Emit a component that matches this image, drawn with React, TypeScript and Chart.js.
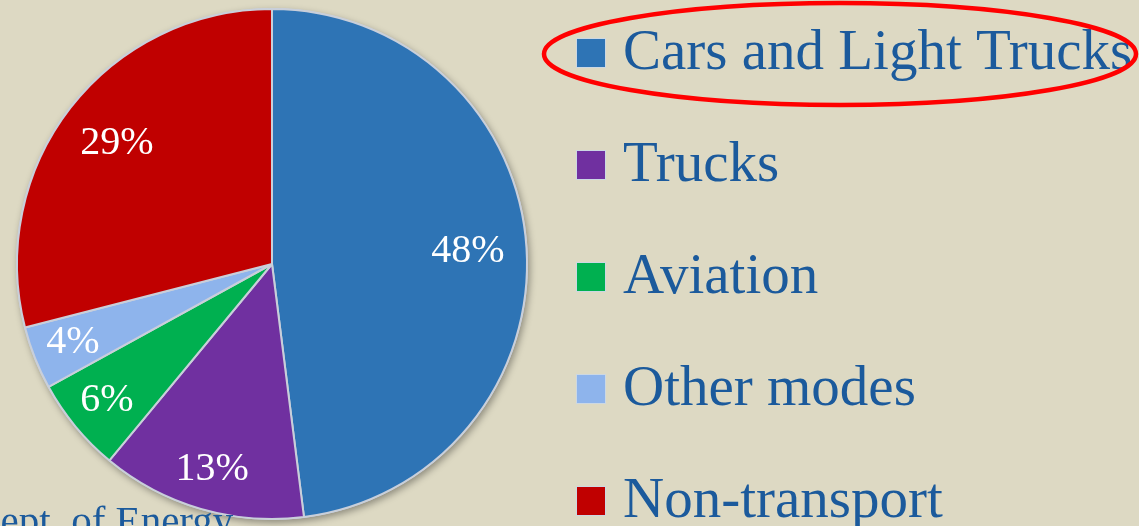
import React, { useEffect, useRef } from "react";
import { Chart, registerables } from "chart.js";

Chart.register(...registerables);

const categories = ["Cars and Light Trucks", "Trucks", "Aviation", "Other modes", "Non-transport"];
const shares = [48, 13, 6, 4, 29];
const sliceColors = ["#2E74B5", "#7030A0", "#00B050", "#8EB4EC", "#C00000"];
const sourceText = "Dept. of Energy";

const BG = "#DDD9C3";
const TEXT_BLUE = "#1B5A9C";
const SERIF = '"Liberation Serif", "DejaVu Serif", serif';

const shadowPlugin = {
  id: "pieShadow",
  beforeDatasetsDraw(chart: any) {
    const meta = chart.getDatasetMeta(0);
    const arc = meta.data[0];
    if (!arc) return;
    const { x, y, outerRadius } = arc.getProps(["x", "y", "outerRadius"], true);
    const ctx = chart.ctx;
    ctx.save();
    ctx.shadowColor = "rgba(0,0,0,0.35)";
    ctx.shadowBlur = 7;
    ctx.shadowOffsetX = 2;
    ctx.shadowOffsetY = 3;
    ctx.fillStyle = "#C9CFDA";
    ctx.beginPath();
    ctx.arc(x, y, outerRadius + 1, 0, Math.PI * 2);
    ctx.fill();
    ctx.restore();
  },
};

const labelPlugin = {
  id: "sliceLabels",
  afterDatasetsDraw(chart: any) {
    const meta = chart.getDatasetMeta(0);
    const values = chart.data.datasets[0].data as number[];
    const ctx = chart.ctx;
    ctx.save();
    ctx.fillStyle = "#FFFFFF";
    ctx.font = `40px ${SERIF}`;
    ctx.textAlign = "center";
    ctx.textBaseline = "middle";
    meta.data.forEach((el: any, i: number) => {
      const { x, y, startAngle, endAngle, outerRadius } = el.getProps(
        ["x", "y", "startAngle", "endAngle", "outerRadius"],
        true
      );
      const mid = (startAngle + endAngle) / 2;
      const r = outerRadius * (values[i] >= 20 ? 0.77 : 0.84);
      ctx.fillText(`${values[i]}%`, x + Math.cos(mid) * r, y + Math.sin(mid) * r);
    });
    ctx.restore();
  },
};

const legendPlugin = {
  id: "customLegend",
  afterDraw(chart: any) {
    const ctx = chart.ctx;
    const area = chart.chartArea;
    const labels = chart.data.labels as string[];
    const colors = chart.data.datasets[0].backgroundColor as string[];
    const boxX = area.right + 49;
    const textX = boxX + 46;
    const firstY = 53;
    const step = 112;
    const box = 28;
    ctx.save();
    ctx.font = `57px ${SERIF}`;
    ctx.textBaseline = "alphabetic";
    ctx.textAlign = "left";
    labels.forEach((lab, i) => {
      const cy = firstY + i * step;
      ctx.fillStyle = "rgba(200,215,235,0.8)";
      ctx.fillRect(boxX - 1, cy - box / 2 - 1, box + 2, box + 2);
      ctx.fillStyle = colors[i];
      ctx.fillRect(boxX, cy - box / 2, box, box);
      ctx.fillStyle = TEXT_BLUE;
      ctx.fillText(lab, textX, cy + box / 2 + 2);
    });
    // highlight ellipse around first legend entry
    ctx.strokeStyle = "#FF0000";
    ctx.lineWidth = 4.5;
    ctx.beginPath();
    ctx.ellipse(840, 54, 296, 51, 0, 0, Math.PI * 2);
    ctx.stroke();
    // source note (cut at the page edge)
    ctx.font = `41px ${SERIF}`;
    ctx.fillStyle = TEXT_BLUE;
    ctx.fillText(sourceText, -29, 534);
    ctx.restore();
  },
};

export default function App() {
  const ref = useRef<HTMLCanvasElement | null>(null);
  useEffect(() => {
    document.body.style.margin = "0";
    document.body.style.background = BG;
    if (!ref.current) return;
    const chart = new Chart(ref.current, {
      type: "pie",
      data: {
        labels: categories,
        datasets: [
          {
            data: shares,
            backgroundColor: sliceColors,
            borderColor: "#C9CFDA",
            borderWidth: 2,
          },
        ],
      },
      options: {
        responsive: false,
        animation: false,
        layout: { padding: { left: 16, top: 8, right: 611, bottom: 6 } },
        plugins: {
          legend: { display: false },
          tooltip: { enabled: false },
        },
      },
      plugins: [shadowPlugin, labelPlugin, legendPlugin],
    });
    return () => chart.destroy();
  }, []);
  return (
    <div style={{ width: 1139, height: 526, background: BG, overflow: "hidden" }}>
      <canvas ref={ref} width={1139} height={526} style={{ display: "block" }} />
    </div>
  );
}
